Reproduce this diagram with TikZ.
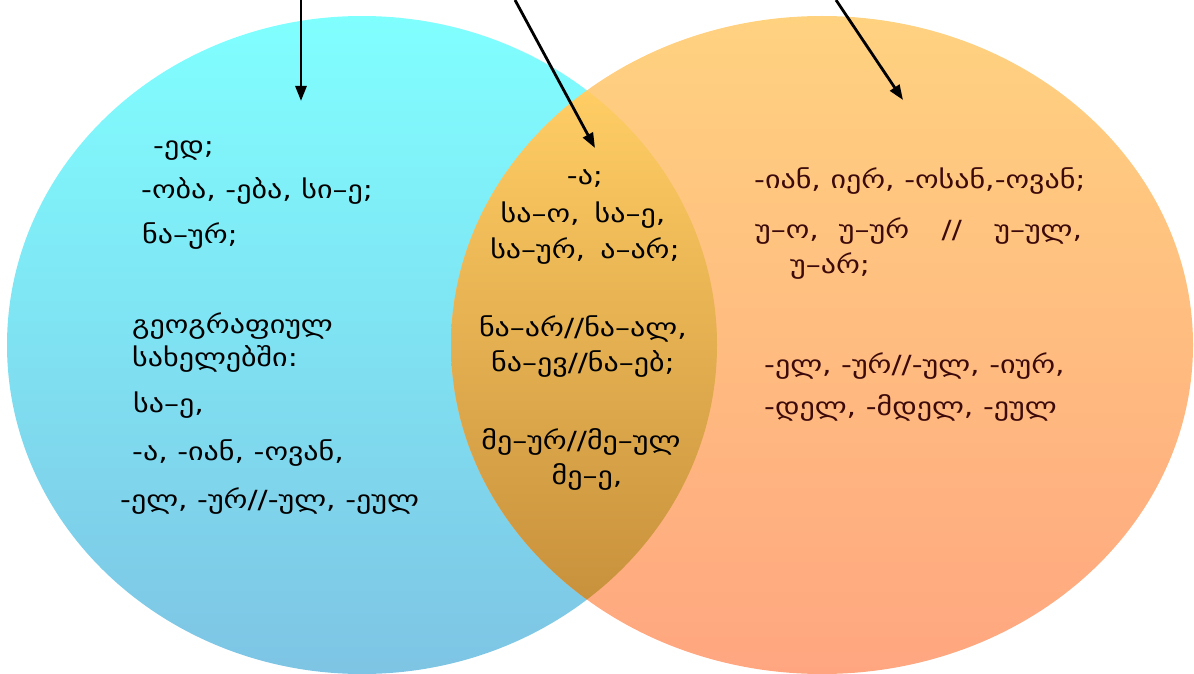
\documentclass[tikz,border=0pt]{standalone}
\usepackage{fontspec}
\setmainfont{DejaVu Sans}[FakeStretch=1.2]
\usetikzlibrary{arrows.meta}
\definecolor{cyantop}{RGB}{128,255,255}
\definecolor{cyanmid}{RGB}{128,226,255}
\definecolor{cyanbot}{RGB}{126,196,228}
\definecolor{orgtop}{RGB}{255,210,128}
\definecolor{orgmid}{RGB}{255,190,128}
\definecolor{orgbot}{RGB}{255,166,128}
\definecolor{midtop}{RGB}{255,205,100}
\definecolor{midmid}{RGB}{236,172,80}
\definecolor{midbot}{RGB}{200,145,60}
\definecolor{redtxt}{RGB}{60,10,10}
\begin{document}
\begin{tikzpicture}[x=1pt,y=-1pt,
  txt/.style={anchor=base west, inner sep=0pt, font=\fontsize{25}{30}\selectfont},
  ctxt/.style={anchor=base, inner sep=0pt, font=\fontsize{25}{30}\selectfont},
  rtxt/.style={txt, text=redtxt},
  arr/.style={line width=2.8pt, -{Triangle[length=15pt,width=11pt]}}]
\useasboundingbox (0,0) rectangle (1194,674);
% left ellipse
\shade[top color=cyantop, middle color=cyanmid, bottom color=cyanbot]
  (362,345) ellipse [x radius=355pt, y radius=329pt];
% right ellipse
\shade[top color=orgtop, middle color=orgmid, bottom color=orgbot]
  (822,345) ellipse [x radius=371pt, y radius=329pt];
% intersection
\begin{scope}
  \clip (362,345) ellipse [x radius=355pt, y radius=329pt];
  \clip (822,345) ellipse [x radius=371pt, y radius=329pt];
  \shade[top color=midtop, middle color=midmid, bottom color=midbot]
    (440,91) rectangle (730,599);
\end{scope}
% arrows
\coordinate (a1s) at (301,0);  \coordinate (a1e) at (301,101);
\coordinate (a2s) at (515,0);  \coordinate (a2e) at (595,148);
\coordinate (a3s) at (836,0);  \coordinate (a3e) at (903,100);
\draw[arr] (a1s) -- (a1e);
\draw[arr] (a2s) -- (a2e);
\draw[arr] (a3s) -- (a3e);
% left texts
\node[txt] (l1) at (153,155) {-ედ;};
\node[txt] (l2) at (141,198) {-ობა, -ება, სი–ე;};
\node[txt] (l3) at (142,243) {ნა–ურ;};
\node[txt] (l4) at (132,333) {გეოგრაფიულ};
\node[txt] (l5) at (132,366) {სახელებში:};
\node[txt] (l6) at (133,412) {სა–ე,};
\node[txt] (l7) at (132,460) {-ა, -იან, -ოვან,};
\node[txt] (l8) at (120,508) {-ელ, -ურ//-ულ, -ეულ};
% middle texts
\node[ctxt] (m1) at (585,184) {-ა;};
\node[ctxt] (m2) at (583,222) {სა–ო,\hspace{0.6em}სა–ე,};
\node[ctxt] (m3) at (585,258) {სა–ურ,\hspace{0.6em}ა–არ;};
\node[ctxt] (m4) at (583,336) {ნა–არ//ნა–ალ,};
\node[ctxt] (m5) at (583,371) {ნა–ევ//ნა–ებ;};
\node[ctxt] (m6) at (581,449) {მე–ურ//მე–ულ};
\node[ctxt] (m7) at (587,484) {მე–ე,};
% right texts
\node[rtxt] (r1) at (754,188) {-იან, იერ, -ოსან,-ოვან;};
\node[rtxt] (r2) at (755,238) {უ–ო,\hspace{0.8em}უ–ურ\hspace{1.3em}//\hspace{1.3em}უ–ულ,};
\node[rtxt] (r3) at (790,273) {უ–არ;};
\node[rtxt] (r4) at (764,373) {-ელ, -ურ//-ულ, -იურ,};
\node[rtxt] (r5) at (764,415) {-დელ, -მდელ, -ეულ};
\end{tikzpicture}
\end{document}
